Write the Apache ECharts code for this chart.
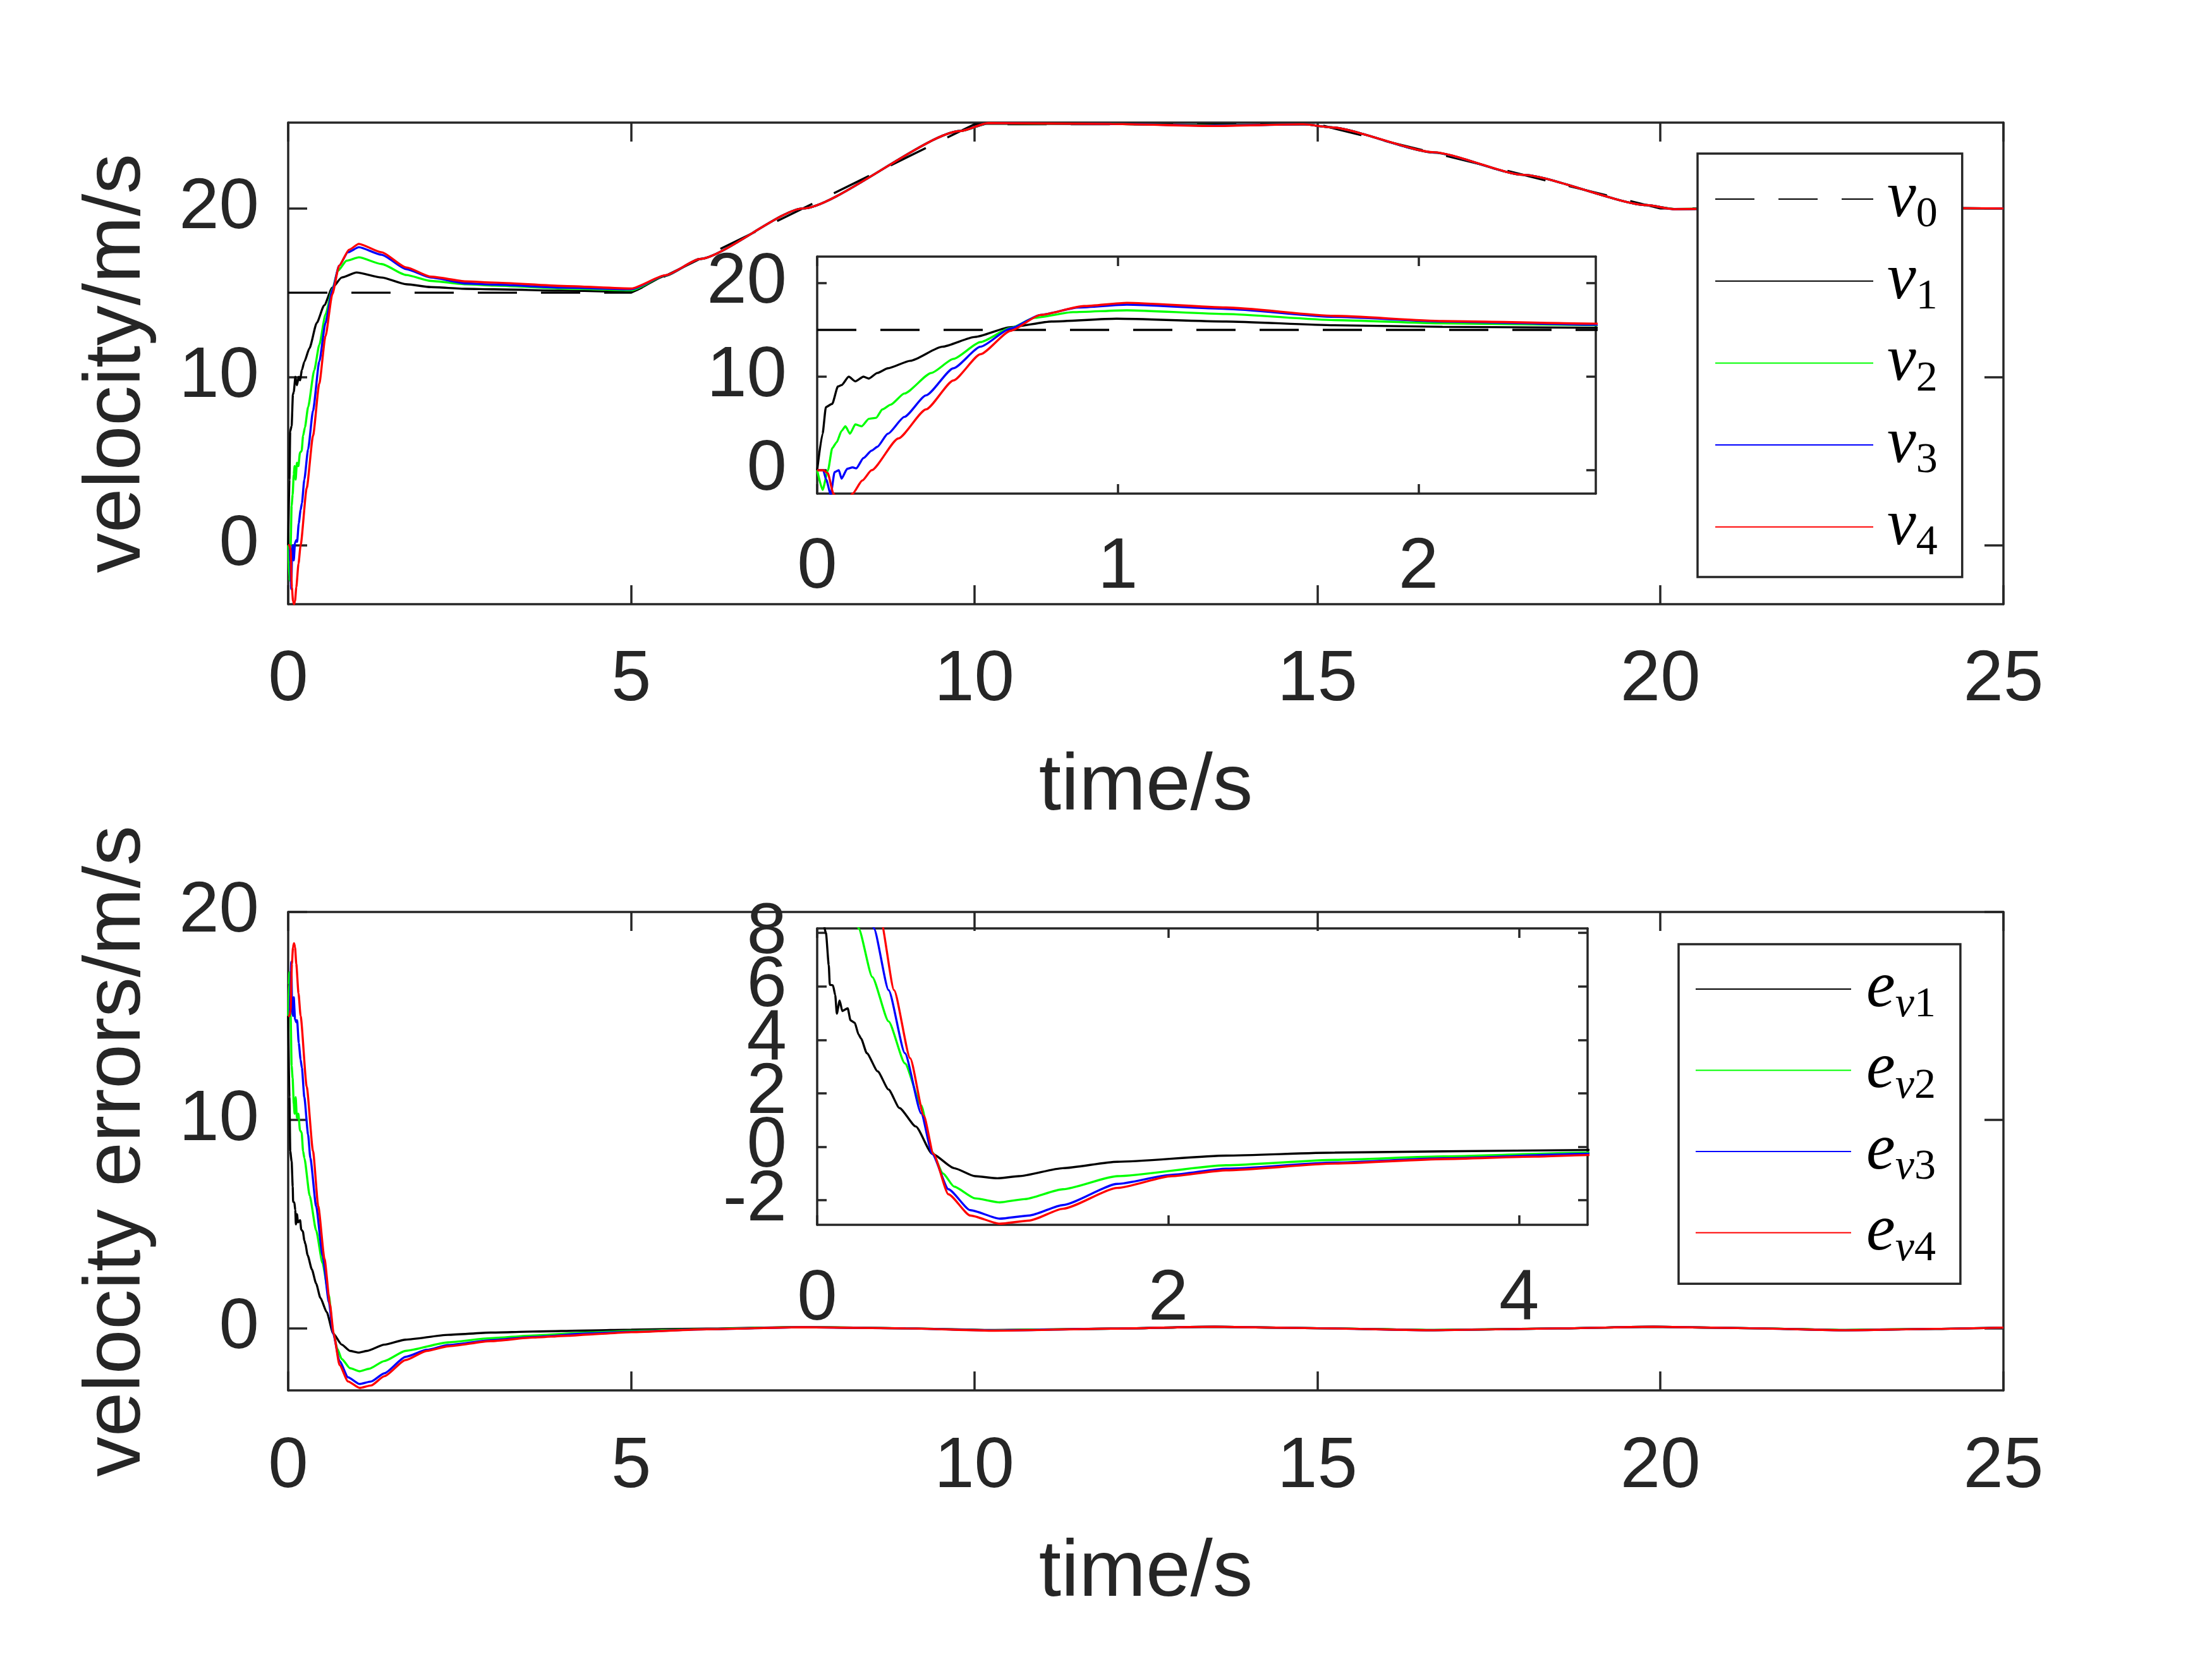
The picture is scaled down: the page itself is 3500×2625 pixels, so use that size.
<!DOCTYPE html>
<html><head><meta charset="utf-8">
<script src="https://cdn.jsdelivr.net/npm/echarts@6/dist/echarts.min.js"></script>
<style>html,body{margin:0;padding:0;background:#fff}#c{width:3500px;height:2625px}</style>
</head><body><div id="c"></div>
<script>
// ---------------- data ----------------
const tV0 = [0, 5, 10, 15, 20, 25];
const v0  = [15, 15, 25, 25, 20, 20];

const tV1 = [0, 0.018, 0.029, 0.05, 0.069, 0.081, 0.105, 0.127, 0.154, 0.172, 0.2, 0.235, 0.31, 0.416, 0.525, 0.643, 0.78, 0.996, 1.36, 1.72, 2.08, 2.59, 3, 4, 5, 5.5, 6, 7.5, 9.8, 10.2, 12, 13.5, 14.8, 15.2, 16.7, 18, 19.8, 20.2, 22.7, 25];
const v1  = [0, 3.9, 6.75, 7.1, 8.95, 9.1, 10.0, 9.5, 10.0, 9.8, 10.4, 10.9, 11.7, 13.2, 14.25, 15.3, 15.9, 16.2, 15.9, 15.5, 15.33, 15.23, 15.2, 15.12, 15.05, 16.0, 17.0, 20.0, 24.6, 25.04, 25.02, 24.94, 25.0, 24.82, 23.32, 22.0, 20.2, 19.97, 20.05, 20.0];

const tV2 = [0, 0.018, 0.036, 0.05, 0.065, 0.081, 0.094, 0.109, 0.127, 0.148, 0.172, 0.196, 0.217, 0.244, 0.29, 0.38, 0.453, 0.543, 0.643, 0.724, 0.851, 1.03, 1.36, 1.72, 2.08, 2.59, 3, 4, 5, 5.5, 6, 7.5, 9.8, 10.2, 12, 13.5, 14.8, 15.2, 16.7, 18, 19.8, 20.2, 22.7, 25];
const v2  = [0, -2.1, 0, 2.35, 3.0, 4.2, 4.7, 3.9, 4.9, 4.7, 5.5, 5.6, 6.5, 7.0, 8.2, 10.4, 11.9, 13.7, 15.2, 16.3, 16.9, 17.1, 16.7, 16.05, 15.7, 15.5, 15.42, 15.25, 15.14, 16.02, 17.0, 20.0, 24.6, 25.05, 25.02, 24.93, 25.0, 24.82, 23.33, 22.0, 20.2, 19.97, 20.06, 20.0];

const tV3 = [0, 0.02, 0.03, 0.045, 0.058, 0.072, 0.081, 0.1, 0.118, 0.13, 0.154, 0.181, 0.2, 0.235, 0.29, 0.362, 0.453, 0.543, 0.643, 0.742, 0.87, 1.03, 1.36, 1.72, 2.08, 2.59, 3, 4, 5, 5.5, 6, 7.5, 9.8, 10.2, 12, 13.5, 14.8, 15.2, 16.7, 18, 19.8, 20.2, 22.7, 25];
const v3  = [0, 0, -1.0, -2.6, -0.2, 0, -0.9, 0.15, 0.3, 0.2, 1.3, 2.1, 2.5, 3.9, 5.7, 8.0, 10.9, 13.2, 15.15, 16.6, 17.4, 17.7, 17.25, 16.4, 15.9, 15.55, 15.48, 15.3, 15.2, 16.03, 17.0, 20.0, 24.6, 25.06, 25.02, 24.92, 25.0, 24.82, 23.33, 22.0, 20.2, 19.96, 20.06, 20.0];

const tV4 = [0, 0.02, 0.035, 0.054, 0.07, 0.085, 0.1, 0.118, 0.15, 0.181, 0.27, 0.362, 0.453, 0.543, 0.643, 0.742, 0.887, 1.03, 1.36, 1.72, 2.08, 2.59, 3, 4, 5, 5.5, 6, 7.5, 9.8, 10.2, 12, 13.5, 14.8, 15.2, 16.7, 18, 19.8, 20.2, 22.7, 25];
const v4  = [0, 0, -0.3, -2.5, -3.3, -3.5, -3.3, -2.5, -1.1, 0, 3.4, 6.5, 9.6, 12.4, 14.9, 16.6, 17.55, 17.9, 17.4, 16.5, 15.95, 15.67, 15.6, 15.4, 15.25, 16.04, 17.0, 20.0, 24.6, 25.07, 25.02, 24.9, 25.0, 24.82, 23.34, 22.0, 20.2, 19.96, 20.07, 20.0];

const tE1 = [0, 0.018, 0.03, 0.05, 0.066, 0.072, 0.09, 0.103, 0.112, 0.128, 0.143, 0.174, 0.19, 0.214, 0.236, 0.25, 0.283, 0.345, 0.407, 0.469, 0.562, 0.655, 0.78, 0.9, 1.027, 1.15, 1.4, 1.71, 2.33, 2.95, 3.57, 4.39, 5, 6.1, 7.5, 9, 10.3, 12, 13.5, 15, 16.7, 18.5, 19.9, 21.3, 22.7, 24, 25];
const e1  = [15, 11.1, 8.5, 8.0, 6.8, 6.06, 6.04, 5.67, 4.98, 5.47, 5.08, 5.18, 4.73, 4.64, 4.2, 4.05, 3.5, 2.82, 2.14, 1.45, 0.76, -0.26, -0.8, -1.1, -1.18, -1.1, -0.8, -0.56, -0.33, -0.22, -0.17, -0.12, -0.08, -0.03, 0.05, -0.02, -0.1, -0.03, 0.06, -0.01, -0.1, -0.02, 0.06, -0.01, -0.1, -0.04, 0.02];

const tE2 = [0, 0.01, 0.018, 0.036, 0.05, 0.065, 0.081, 0.094, 0.109, 0.127, 0.148, 0.172, 0.196, 0.217, 0.236, 0.314, 0.407, 0.5, 0.593, 0.655, 0.717, 0.78, 0.9, 1.04, 1.18, 1.4, 1.71, 2.33, 2.95, 3.57, 4.39, 5, 6.1, 7.5, 9, 10.3, 12, 13.5, 15, 16.7, 18.5, 19.9, 21.3, 22.7, 24, 25];
const e2  = [15, 16.5, 17.1, 15, 12.6, 12.0, 10.8, 10.3, 11.1, 10.1, 10.3, 9.5, 9.4, 8.5, 8.17, 6.35, 4.69, 3.12, 1.55, -0.2, -1.0, -1.49, -1.93, -2.08, -1.96, -1.59, -1.1, -0.69, -0.49, -0.36, -0.22, -0.14, -0.05, 0.05, -0.02, -0.11, -0.03, 0.06, -0.01, -0.1, -0.02, 0.06, -0.01, -0.1, -0.04, 0.02];

const tE3 = [0, 0.02, 0.03, 0.045, 0.058, 0.072, 0.081, 0.1, 0.118, 0.13, 0.154, 0.181, 0.2, 0.235, 0.29, 0.323, 0.407, 0.5, 0.593, 0.655, 0.748, 0.872, 1.04, 1.21, 1.4, 1.71, 2.02, 2.33, 2.95, 3.57, 4.39, 5, 6.1, 7.5, 9, 10.3, 12, 13.5, 15, 16.7, 18.5, 19.9, 21.3, 22.7, 24, 25];
const e3  = [15, 15, 16, 17.6, 15.2, 15, 15.9, 14.85, 14.7, 14.8, 13.7, 12.9, 12.5, 11.1, 9.3, 8.17, 5.86, 3.5, 1.25, -0.26, -1.59, -2.37, -2.69, -2.57, -2.18, -1.39, -1.05, -0.82, -0.59, -0.43, -0.26, -0.18, -0.06, 0.04, -0.02, -0.12, -0.03, 0.06, -0.01, -0.11, -0.02, 0.06, -0.01, -0.11, -0.04, 0.02];

const tE4 = [0, 0.02, 0.035, 0.054, 0.07, 0.085, 0.1, 0.118, 0.15, 0.181, 0.27, 0.362, 0.438, 0.53, 0.608, 0.662, 0.748, 0.872, 1.04, 1.21, 1.4, 1.71, 2.02, 2.33, 2.95, 3.57, 4.09, 4.39, 5, 6.1, 7.5, 9, 10.3, 12, 13.5, 15, 16.7, 18.5, 19.9, 21.3, 22.7, 24, 25];
const e4  = [15, 15, 15.3, 17.5, 18.3, 18.5, 18.3, 17.5, 16.1, 15.0, 11.6, 8.5, 5.86, 3.31, 1.16, -0.26, -1.78, -2.57, -2.88, -2.76, -2.32, -1.54, -1.1, -0.88, -0.63, -0.46, -0.37, -0.31, -0.2, -0.06, 0.04, -0.02, -0.13, -0.03, 0.06, -0.01, -0.11, -0.02, 0.06, -0.01, -0.11, -0.04, 0.02];

// tick positions and tick labels
const xTicksMain    = [0, 5, 10, 15, 20, 25];
const yTicksTop     = [0, 10, 20];
const yTicksBottom  = [0, 10, 20];
const xTicksInset1  = [0, 1, 2];
const yTicksInset1  = [0, 10, 20];
const xTicksInset2  = [0, 2, 4];
const yTicksInset2  = [-2, 0, 2, 4, 6, 8];
const yLabelsInset2a = [-2, 2, 6];
const yLabelsInset2b = [0, 4, 8];

const namesV = ['v0', 'v1', 'v2', 'v3', 'v4'];
const namesE = ['e1', 'e2', 'e3', 'e4'];

// ---------------- chart construction ----------------
const AX = '#262626';
const FONT = 'Liberation Sans';
const zip = (t, v) => t.map((x, i) => [x, v[i]]);

function baseAxis(grid, pos, min, max, ticks, tl, labels, margin, labelVals) {
  return {
    type: 'value', gridIndex: grid, position: pos, min: min, max: max,
    axisLine: {show: true, onZero: false, lineStyle: {color: AX, width: 3.5}},
    axisTick: {show: tl > 0, inside: true, length: tl, customValues: ticks, lineStyle: {color: AX, width: 3.5}},
    axisLabel: {show: labels, customValues: labelVals || ticks, margin: margin, color: AX, fontSize: 114, fontFamily: FONT,
                showMinLabel: true, showMaxLabel: true, hideOverlap: false},
    splitLine: {show: false},
    nameTextStyle: {color: AX, fontSize: 127, fontFamily: FONT}
  };
}
function xAxis(grid, pos, min, max, ticks, tl, labels, margin, name) {
  const a = baseAxis(grid, pos, min, max, ticks, tl, labels, margin);
  if (name) { a.name = name; a.nameLocation = 'middle'; a.nameGap = 226; }
  return a;
}
function yAxis(grid, pos, min, max, ticks, tl, labels, margin, name, labelVals) {
  const a = baseAxis(grid, pos, min, max, ticks, tl, labels, margin, labelVals);
  if (name) { a.name = name; a.nameLocation = 'middle'; a.nameRotate = 90; a.nameGap = 207; }
  return a;
}

const grids = [
  {left: 456, top: 194, width: 2714, height: 762},
  {left: 1293, top: 406, width: 1232, height: 375, show: true, backgroundColor: '#fff', borderWidth: 0},
  {left: 456, top: 1443, width: 2714, height: 757},
  {left: 1293, top: 1469, width: 1219, height: 469, show: true, backgroundColor: '#fff', borderWidth: 0}
].map(g => Object.assign({outerBoundsMode: 'none', containLabel: false}, g));

const xAxes = [
  xAxis(0, 'bottom', 0, 25, xTicksMain, 30, true, 64, 'time/s'),
  xAxis(0, 'top', 0, 25, xTicksMain, 30, false, 8),
  xAxis(1, 'bottom', 0, 2.59, xTicksInset1, 15, true, 61),
  xAxis(1, 'top', 0, 2.59, xTicksInset1, 15, false, 8),
  xAxis(2, 'bottom', 0, 25, xTicksMain, 30, true, 65, 'time/s'),
  xAxis(2, 'top', 0, 25, xTicksMain, 30, false, 8),
  xAxis(3, 'bottom', 0, 4.39, xTicksInset2, 15, true, 62),
  xAxis(3, 'top', 0, 4.39, xTicksInset2, 15, false, 8)
];
const extraLabelAxis = yAxis(3, 'left', -2.92, 8.17, yTicksInset2, 0, true, 48, null, yLabelsInset2b);
extraLabelAxis.axisLine = {show: false, onZero: false};
const yAxes = [
  yAxis(0, 'left', -3.5, 25.1, yTicksTop, 30, true, 46, 'velocity/m/s'),
  yAxis(0, 'right', -3.5, 25.1, yTicksTop, 30, false, 8),
  yAxis(1, 'left', -2.5, 22.84, yTicksInset1, 15, true, 48),
  yAxis(1, 'right', -2.5, 22.84, yTicksInset1, 15, false, 8),
  yAxis(2, 'left', -3, 20, yTicksBottom, 30, true, 46, 'velocity errors/m/s'),
  yAxis(2, 'right', -3, 20, yTicksBottom, 30, false, 8),
  yAxis(3, 'left', -2.92, 8.17, yTicksInset2, 15, true, 48, null, yLabelsInset2a),
  yAxis(3, 'right', -2.92, 8.17, yTicksInset2, 15, false, 8),
  extraLabelAxis
];

const vSets = [
  {name: 'v0', data: zip(tV0, v0), color: '#000000', dash: true},
  {name: 'v1', data: zip(tV1, v1), color: '#000000'},
  {name: 'v2', data: zip(tV2, v2), color: '#00ff00'},
  {name: 'v3', data: zip(tV3, v3), color: '#0000ff'},
  {name: 'v4', data: zip(tV4, v4), color: '#ff0000'}
];
const eSets = [
  {name: 'e1', data: zip(tE1, e1), color: '#000000'},
  {name: 'e2', data: zip(tE2, e2), color: '#00ff00'},
  {name: 'e3', data: zip(tE3, e3), color: '#0000ff'},
  {name: 'e4', data: zip(tE4, e4), color: '#ff0000'}
];

const series = [];
function addSeries(sets, axisIdx) {
  sets.forEach(s => {
    series.push({
      type: 'line', name: s.name, data: s.data,
      xAxisIndex: axisIdx, yAxisIndex: axisIdx,
      symbol: 'none', showSymbol: false, clip: true,
      smooth: s.dash ? false : 0.2, smoothMonotone: 'x',
      lineStyle: {color: s.color, width: 3.4, type: s.dash ? [62, 38] : 'solid'},
      itemStyle: {color: s.color},
      emphasis: {disabled: true}, silent: true, animation: false
    });
  });
}
addSeries(vSets, 0);
addSeries(vSets, 2);
addSeries(eSets, 4);
addSeries(eSets, 6);

const SERIF = 'Liberation Serif';
function legendRich(padL) {
  return {
    i:  {fontFamily: SERIF, fontStyle: 'italic', fontSize: 103, padding: [0, 0, 0, padL], color: '#000'},
    si: {fontFamily: SERIF, fontStyle: 'italic', fontSize: 68, padding: [51, 0, 0, 0], color: '#000'},
    s:  {fontFamily: SERIF, fontSize: 68, padding: [51, 0, 0, 0], color: '#000'}
  };
}

const option = {
  backgroundColor: '#ffffff',
  animation: false,
  grid: grids,
  xAxis: xAxes,
  yAxis: yAxes,
  legend: [
    {
      data: namesV, orient: 'vertical', left: 2686, top: 243,
      padding: [20.5, 39, 19.6, 27], itemGap: 18.7, itemWidth: 250, itemHeight: 4,
      borderColor: AX, borderWidth: 3.5, backgroundColor: '#fff', selectedMode: false,
      itemStyle: {opacity: 0},
      formatter: n => '{i|' + n[0] + '}{s|' + n.slice(1) + '}',
      textStyle: {color: '#000', rich: legendRich(17)}
    },
    {
      data: namesE, orient: 'vertical', left: 2656, top: 1494,
      padding: [19.4, 39, 21.4, 26], itemGap: 17.5, itemWidth: 246, itemHeight: 4,
      borderColor: AX, borderWidth: 3.5, backgroundColor: '#fff', selectedMode: false,
      itemStyle: {opacity: 0},
      formatter: n => '{i|' + n[0] + '}{si|v}{s|' + n.slice(1) + '}',
      textStyle: {color: '#000', rich: legendRich(19)}
    }
  ],
  series: series
};

const chart = echarts.init(document.getElementById('c'), null, {renderer: 'canvas', width: 3500, height: 2625});
chart.setOption(option);
</script></body></html>
